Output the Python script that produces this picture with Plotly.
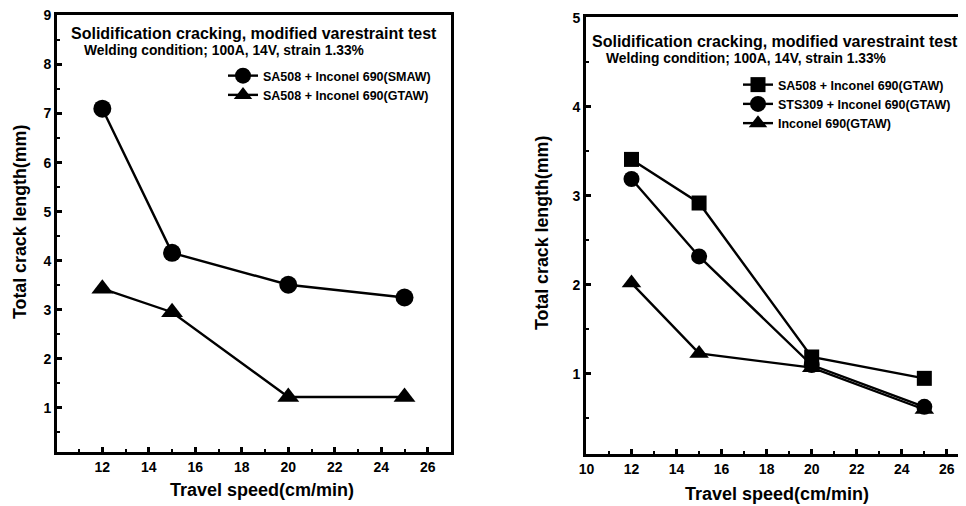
import plotly.graph_objects as go

# ---- data ----
speed = [12, 15, 20, 25]

left_smaw = [7.1, 4.16, 3.51, 3.25]
left_gtaw = [3.43, 2.95, 1.22, 1.22]

right_sa508 = [3.41, 2.92, 1.19, 0.95]
right_sts309 = [3.19, 2.32, 1.10, 0.63]
right_inconel = [2.02, 1.23, 1.07, 0.60]

left_names = ["SA508 + Inconel 690(SMAW)", "SA508 + Inconel 690(GTAW)"]
right_names = ["SA508 + Inconel 690(GTAW)", "STS309 + Inconel 690(GTAW)", "Inconel 690(GTAW)"]

title_text = "Solidification cracking, modified varestraint test"
sub_text = "Welding condition; 100A, 14V, strain 1.33%"
x_title = "Travel speed(cm/min)"
y_title = "Total crack length(mm)"

FONT = "Liberation Sans, Arial, sans-serif"
OFF = 8  # page body margin
W, H = 966 - OFF, 506 - OFF

def px(x):
    return (x - OFF) / W

def py(y):
    return 1 - (y - OFF) / H

fig = go.Figure()

def add(x, y, name, symbol, size, xa, ya, legend):
    fig.add_trace(go.Scatter(
        x=x, y=y, name=name, mode="lines+markers",
        line=dict(color="black", width=2.4),
        marker=dict(symbol=symbol, size=size, color="black"),
        xaxis=xa, yaxis=ya, legend=legend))

add(speed, left_smaw, left_names[0], "circle", 18, "x", "y", "legend")
add(speed, left_gtaw, left_names[1], "triangle-up", 19, "x", "y", "legend")
add(speed, right_sa508, right_names[0], "square", 15, "x2", "y2", "legend2")
add(speed, right_sts309, right_names[1], "circle", 16, "x2", "y2", "legend2")
add(speed, right_inconel, right_names[2], "triangle-up", 17, "x2", "y2", "legend2")

tickfont = dict(family=FONT, size=14, color="black", weight="bold")

def xax(domain, rng, anchor):
    return dict(domain=domain, range=rng, dtick=2, tick0=10, ticks="inside", ticklen=5,
                tickwidth=2.5, tickcolor="black", showline=True, linewidth=3, linecolor="black",
                mirror=True, showgrid=False, zeroline=False, tickfont=tickfont,
                automargin=False, anchor=anchor, ticklabeloverflow="allow",
                minor=dict(ticks="inside", ticklen=3, dtick=1, tickwidth=2, tickcolor="black"))

def yax(domain, rng, mirror_line, anchor):
    return dict(domain=domain, range=rng, dtick=1, tick0=0, ticks="inside", ticklen=5,
                tickwidth=2.5, tickcolor="black", showline=True, linewidth=3, linecolor="black",
                mirror=mirror_line, showgrid=False, zeroline=False, tickfont=tickfont,
                automargin=False, anchor=anchor, ticklabeloverflow="allow",
                minor=dict(ticks="inside", ticklen=3, dtick=0.5, tickwidth=2, tickcolor="black"))

legfont = dict(family=FONT, size=12.5, weight="bold", color="black")

fig.update_layout(
    width=W, height=H,
    margin=dict(l=0, r=0, t=0, b=0, autoexpand=False),
    paper_bgcolor="white", plot_bgcolor="white",
    font=dict(family=FONT, color="black"),
    xaxis=xax([px(57), px(451)], [10.05, 27], "y"),
    yaxis=yax([py(452), py(15)], [0.1, 9.01], True, "x"),
    xaxis2=xax([px(586), 1.0], [9.98, 26.85], "y2"),
    yaxis2=yax([py(454), py(17)], [0.1, 5.01], False, "x2"),
    legend=dict(x=px(223), y=py(61), xanchor="left", yanchor="top",
                bgcolor="rgba(0,0,0,0)", font=legfont, tracegroupgap=0, itemwidth=30),
    legend2=dict(x=px(738), y=py(70), xanchor="left", yanchor="top",
                 bgcolor="rgba(0,0,0,0)", font=legfont, tracegroupgap=0, itemwidth=30),
    showlegend=True,
)

def ann(text, cx, cy, size, angle=0):
    fig.add_annotation(text=text, x=px(cx), y=py(cy), xref="paper", yref="paper",
                       showarrow=False, xanchor="center", yanchor="middle", textangle=angle,
                       font=dict(family=FONT, size=size, color="black", weight="bold"))

ann(title_text, 254, 34, 16)
ann(sub_text, 224, 51, 13.8)
ann(title_text, 775, 42, 16)
ann(sub_text, 746, 58, 13.8)

# axis titles
ann(x_title, 262, 490, 18)
ann(x_title, 777, 494, 18)
ann(y_title, 20, 222, 17.8, -90)
ann(y_title, 542, 233, 17.8, -90)

fig.write_html("out.html")
